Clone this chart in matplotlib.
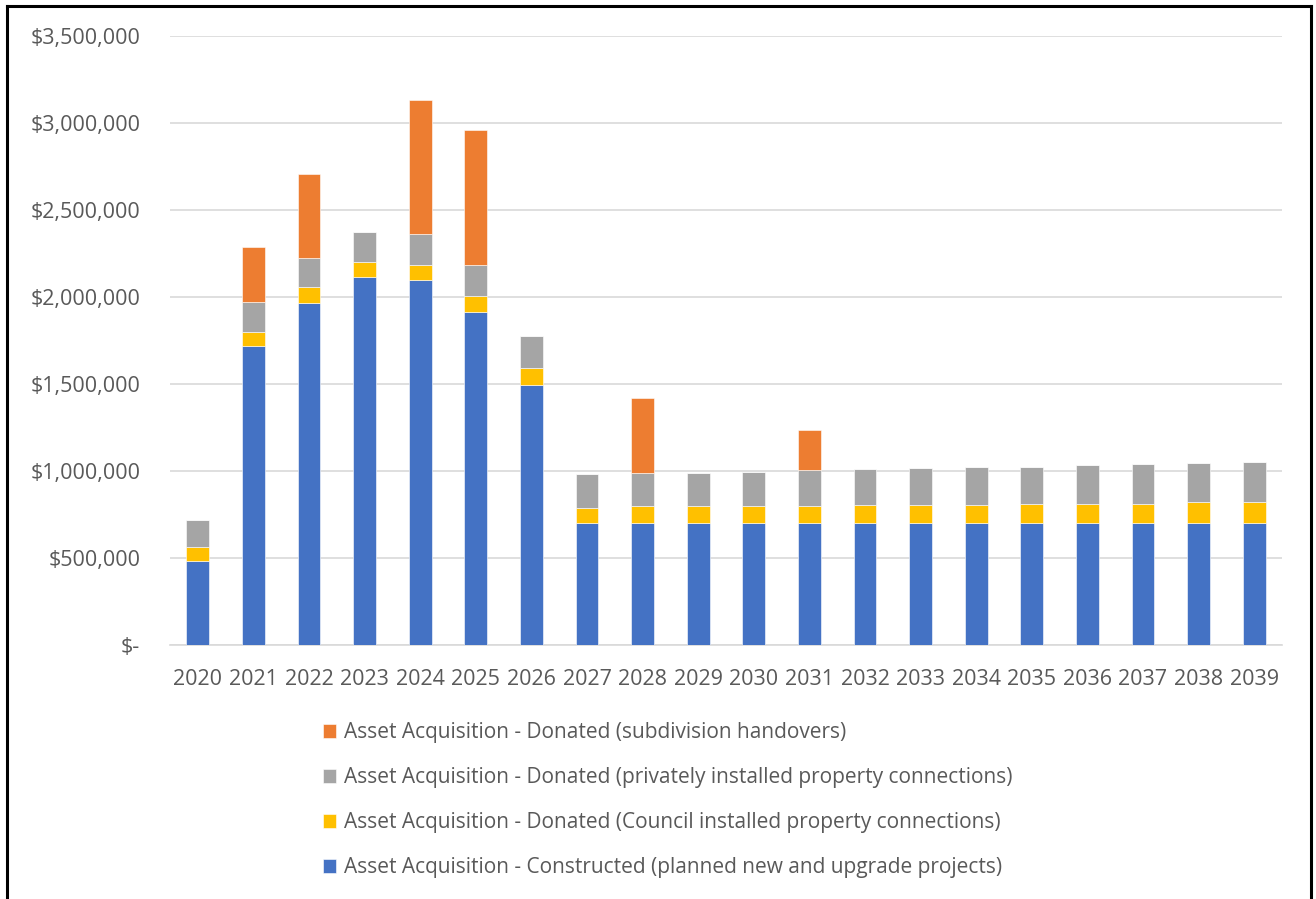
import matplotlib
matplotlib.use("Agg")
import matplotlib.pyplot as plt
from matplotlib.lines import Line2D
from matplotlib.ticker import FuncFormatter
import numpy as np

years = [str(y) for y in range(2020, 2040)]

constructed = [480000, 1721000, 1965000, 2115000, 2096000, 1914000, 1494000,
               702000, 702000, 702000, 702000, 702000, 702000, 702000,
               702000, 702000, 702000, 702000, 702000, 702000]
council_conn = [81000, 80000, 90000, 86000, 90000, 92000, 96000,
                88000, 94000, 94000, 94000, 94000, 103000, 103000,
                103000, 108000, 108000, 108000, 118000, 118000]
private_conn = [160000, 170000, 168000, 170000, 177000, 180000, 185000,
                190000, 191000, 191000, 199000, 207000, 205000, 212000,
                220000, 215000, 223000, 230000, 228000, 234000]
subdivision = [0, 316000, 486000, 0, 770000, 771000, 0,
               0, 433000, 0, 0, 233000, 0, 0,
               0, 0, 0, 0, 0, 0]

series_labels = [
    "Asset Acquisition - Constructed (planned new and upgrade projects)",
    "Asset Acquisition - Donated (Council installed property connections)",
    "Asset Acquisition - Donated (privately installed property connections)",
    "Asset Acquisition - Donated (subdivision handovers)",
]
colors = ["#4472C4", "#FFC000", "#A5A5A5", "#ED7D31"]

plt.rcParams["font.family"] = ["Open Sans", "DejaVu Sans"]

W, H = 1316, 899
fig = plt.figure(figsize=(W / 100, H / 100), dpi=100)
ax = fig.add_axes([170 / W, 1 - 645 / H, (1282 - 170) / W, (645 - 36) / H])

x = np.arange(len(years))
bottom = np.zeros(len(years))
handles = []
for vals, col, lab in zip([constructed, council_conn, private_conn, subdivision],
                          colors, series_labels):
    vals = np.array(vals, dtype=float)
    b = ax.bar(x, vals, width=0.41, bottom=bottom, color=col, label=lab,
               edgecolor="white", linewidth=0.4, zorder=3)
    bottom += vals
    handles.append(b)

ax.set_xlim(-0.5, len(years) - 0.5)
ax.set_ylim(0, 3500000)
ax.set_yticks(np.arange(0, 3500001, 500000))


def money(v, pos):
    if v == 0:
        return "$-"
    return "${:,.0f}".format(v)


ax.yaxis.set_major_formatter(FuncFormatter(money))
ax.set_xticks(x)
ax.set_xticklabels(years)
ax.tick_params(axis="both", length=0, labelsize=15.5, colors="#595959")
ax.tick_params(axis="y", pad=21.5)
ax.tick_params(axis="x", pad=17)
ax.grid(axis="y", color="#D9D9D9", linewidth=1.2, zorder=0)
for s in ["top", "right", "left"]:
    ax.spines[s].set_visible(False)
ax.spines["bottom"].set_color("#D9D9D9")
ax.spines["bottom"].set_linewidth(1.2)

# legend stacked in reverse order, centred under the plot
leg = fig.legend(handles[::-1], series_labels[::-1],
                 loc="upper left", bbox_to_anchor=(313 / W, 1 - 712 / H),
                 frameon=False, fontsize=15, labelcolor="#595959",
                 handlelength=0.6, handleheight=0.6, handletextpad=0.4,
                 labelspacing=1.15, borderpad=0)

# outer frame
for xs, ys in [([7 / W, 7 / W], [0, 1 - 6 / H]),
               ([7 / W, 1311 / W], [1 - 6 / H, 1 - 6 / H]),
               ([1311 / W, 1311 / W], [1 - 6 / H, 0])]:
    fig.add_artist(Line2D(xs, ys, color="black", linewidth=2.2,
                          transform=fig.transFigure))

fig.savefig("out.png", dpi=100, facecolor="white")
